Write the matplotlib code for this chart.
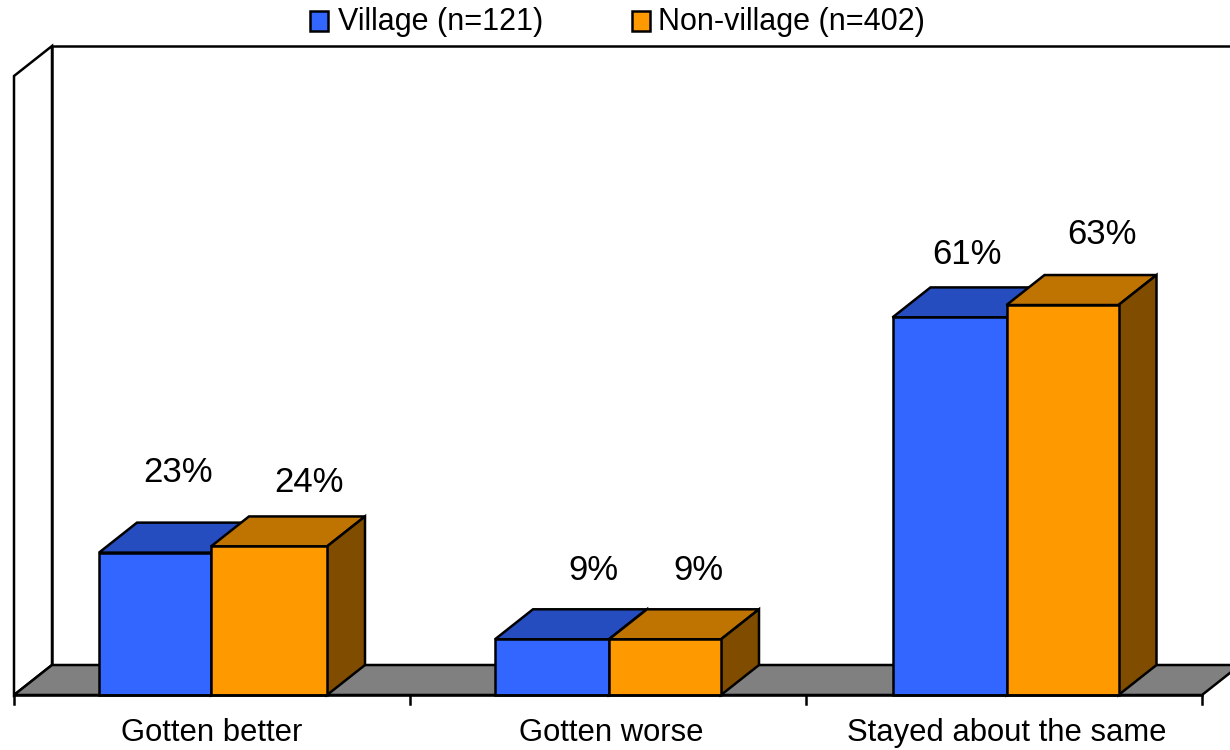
import matplotlib
matplotlib.use('Agg')
import matplotlib.pyplot as plt
from matplotlib.patches import Polygon, Rectangle

categories = ['Gotten better', 'Gotten worse', 'Stayed about the same']
village = [23, 9, 61]
non_village = [24, 9, 63]
series_names = ['Village (n=121)', 'Non-village (n=402)']

plt.rcParams['font.family'] = ['Liberation Sans', 'DejaVu Sans']

W, H = 1230, 750
px_x = 396.0   # pixels per category
px_y = 6.19    # pixels per percent
x0_px, y0_px = 14.0, 695.0

fig = plt.figure(figsize=(W / 100, H / 100), dpi=100)
ax = fig.add_axes([0, 0, 1, 1])
ax.set_xlim(-x0_px / px_x, (W - x0_px) / px_x)
ax.set_ylim(-(H - y0_px) / px_y, y0_px / px_y)
ax.axis('off')

# depth of the fake 3d box, data units
dx = 38 / px_x
dy = 30 / px_y
lw = 1.8
n = len(categories)

# small layout nudges, in pixels
group_shift = [-1, 1, 2.5]
village_w = [112, 114, 114]
non_village_w = [116, 112, 112]
category_shift = [0, 3, 3]
village_label_x = [178, 593, 967]
village_label_up = [80, 69, 63]
non_village_label_x = [309, 698, 1102]
non_village_label_up = [64, 69, 71]


def poly(pts, fc, z=2):
    ax.add_patch(Polygon(pts, closed=True, facecolor=fc, edgecolor='black',
                         linewidth=lw, joinstyle='miter', zorder=z))


def to_x(px):
    return (px - x0_px) / px_x


def to_y(px):
    return (y0_px - px) / px_y


# walls and floor
poly([(0, 0), (dx, dy), (dx, 100 + dy), (0, 100)], 'white', 1)
poly([(dx, dy), (n + dx, dy), (n + dx, 100 + dy), (dx, 100 + dy)], 'white', 1)
poly([(0, 0), (dx, dy), (n + dx, dy), (n, 0)], '#808080', 1)

# axis line and ticks
ax.plot([0, n], [0, 0], color='black', lw=lw, zorder=5)
for i in range(n + 1):
    ax.plot([i, i], [0, -9 / px_y], color='black', lw=lw, zorder=5)


def bar3d(left, w, val, front, top, side, z):
    poly([(left, val), (left + dx, val + dy), (left + w + dx, val + dy), (left + w, val)], top, z)
    poly([(left + w, 0), (left + w + dx, dy), (left + w + dx, val + dy), (left + w, val)], side, z)
    ax.add_patch(Rectangle((left, 0), w, val, facecolor=front, edgecolor='black',
                           linewidth=lw, zorder=z))


for i in range(n):
    c = i + 0.5 + group_shift[i] / px_x
    bar3d(c - village_w[i] / px_x, village_w[i] / px_x, village[i], '#3366ff', '#264dbf', '#1a3380', 3)
    bar3d(c, non_village_w[i] / px_x, non_village[i], '#ff9900', '#bf7300', '#804d00', 4)

    ax.text(to_x(village_label_x[i]), village[i] + village_label_up[i] / px_y,
            '%d%%' % village[i], ha='center', va='center', fontsize=25, zorder=6)
    ax.text(to_x(non_village_label_x[i]), non_village[i] + non_village_label_up[i] / px_y,
            '%d%%' % non_village[i], ha='center', va='center', fontsize=25, zorder=6)
    ax.text(i + 0.5 + category_shift[i] / px_x, to_y(733), categories[i],
            ha='center', va='center', fontsize=22.3, zorder=6)

# legend by hand, excel style
for name, fc, lx, tx in [(series_names[0], '#3366ff', 310, 338), (series_names[1], '#ff9900', 632, 658)]:
    ax.add_patch(Rectangle((to_x(lx), to_y(31)), 18 / px_x, 20 / px_y,
                           facecolor=fc, edgecolor='black', linewidth=lw, zorder=6))
    ax.text(to_x(tx), to_y(22), name, ha='left', va='center', fontsize=22, zorder=6)

fig.savefig('out.png', dpi=100, facecolor='white')
